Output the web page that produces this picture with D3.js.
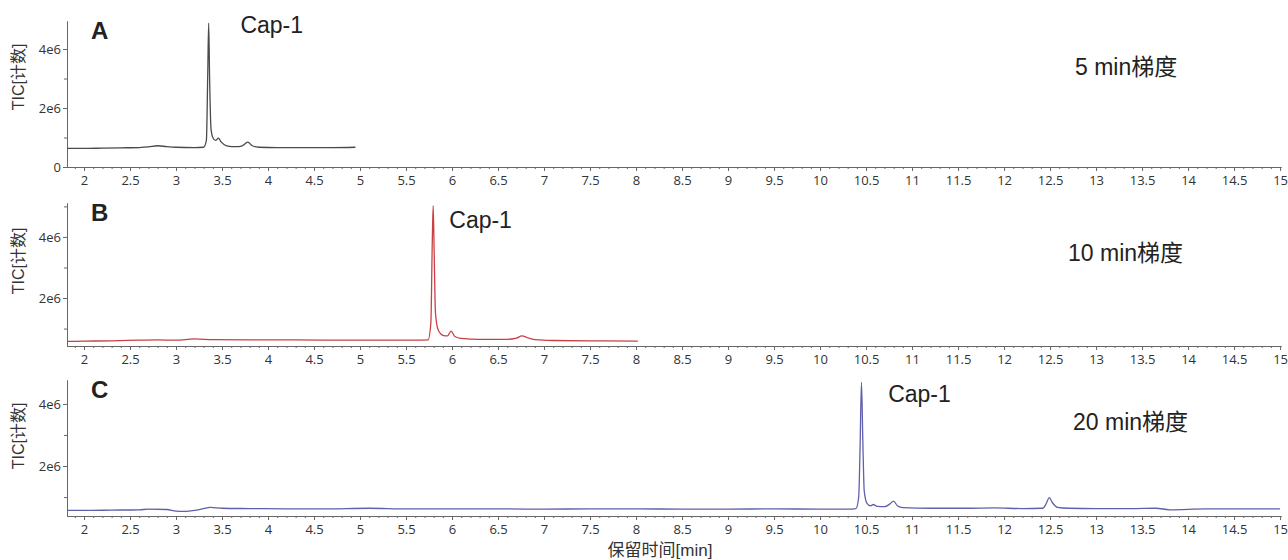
<!DOCTYPE html>
<html>
<head>
<meta charset="utf-8">
<script src="https://cdn.jsdelivr.net/npm/d3@7"></script>
<style>
  body { margin: 0; background: #fff; }
  .tick text { font-family: "Open Sans", "Noto Sans CJK SC", sans-serif; font-size: 13px; fill: #333; }
  .axis path, .axis line { stroke: #666; }
  .panel-label { font-family: "Liberation Sans", Arial, sans-serif; font-weight: bold; font-size: 24px; fill: #222; }
  .peak-label, .grad-label { font-family: "Liberation Sans", "Noto Sans CJK SC", sans-serif; font-size: 23px; fill: #222; }
  .y-title { font-family: "Liberation Sans", "Noto Sans CJK SC", sans-serif; font-size: 16px; fill: #333; }
  .x-title { font-family: "Liberation Sans", "Noto Sans CJK SC", sans-serif; font-size: 17px; fill: #333; }
</style>
</head>
<body>
<div class="chart"></div>
<script>
const width = 1288;
const height = 560;

// retention time (min) and TIC (x1e6 counts)
const timesA = [1.82, 2.0, 2.2, 2.4, 2.6, 2.7, 2.8, 2.9, 3.0, 3.2, 3.30, 3.33, 3.345, 3.355, 3.365, 3.38, 3.40, 3.43, 3.46, 3.49, 3.55, 3.65, 3.72, 3.78, 3.83, 3.9, 4.1, 4.4, 4.7, 4.95]
const valuesA = [0.63, 0.63, 0.64, 0.65, 0.66, 0.68, 0.72, 0.69, 0.67, 0.66, 0.67, 0.9, 3.2, 4.88, 3.0, 1.3, 1.0, 0.9, 0.98, 0.85, 0.72, 0.69, 0.72, 0.84, 0.72, 0.67, 0.66, 0.66, 0.66, 0.67]

const timesB = [1.82, 2.0, 2.3, 2.6, 2.8, 3.0, 3.2, 3.4, 3.8, 4.3, 4.8, 5.3, 5.6, 5.74, 5.77, 5.785, 5.795, 5.805, 5.82, 5.85, 5.9, 5.95, 5.99, 6.03, 6.1, 6.3, 6.6, 6.7, 6.76, 6.82, 6.9, 7.1, 7.5, 8.0, 8.02]
const valuesB = [0.58, 0.59, 0.6, 0.62, 0.63, 0.62, 0.66, 0.64, 0.63, 0.63, 0.62, 0.62, 0.62, 0.63, 1.2, 3.8, 5.02, 3.6, 1.5, 0.95, 0.78, 0.76, 0.92, 0.74, 0.68, 0.65, 0.65, 0.69, 0.76, 0.7, 0.64, 0.61, 0.6, 0.59, 0.59]

const timesC = [1.82, 2.0, 2.3, 2.6, 2.7, 2.9, 3.0, 3.1, 3.2, 3.3, 3.37, 3.5, 3.8, 4.2, 4.6, 5.1, 5.5, 6.0, 6.5, 7.0, 7.5, 8.0, 8.5, 9.0, 9.5, 10.0, 10.3, 10.39, 10.42, 10.435, 10.45, 10.465, 10.48, 10.51, 10.55, 10.58, 10.62, 10.7, 10.76, 10.8, 10.84, 10.9, 11.2, 11.6, 11.9, 12.2, 12.42, 12.46, 12.49, 12.53, 12.58, 12.7, 13.0, 13.4, 13.65, 13.8, 14.2, 14.6, 15.0]
const valuesC = [0.57, 0.57, 0.58, 0.59, 0.61, 0.6, 0.55, 0.54, 0.57, 0.63, 0.67, 0.64, 0.63, 0.62, 0.62, 0.64, 0.62, 0.62, 0.62, 0.61, 0.62, 0.62, 0.61, 0.61, 0.62, 0.61, 0.61, 0.63, 1.0, 2.6, 4.7, 2.8, 1.2, 0.8, 0.72, 0.76, 0.7, 0.69, 0.78, 0.87, 0.72, 0.66, 0.64, 0.64, 0.65, 0.63, 0.64, 0.8, 0.98, 0.8, 0.67, 0.64, 0.63, 0.63, 0.64, 0.59, 0.62, 0.62, 0.62]

const panelNames = ['A', 'B', 'C']
const gradients = ['5 min梯度', '10 min梯度', '20 min梯度']
const peakNames = ['Cap-1', 'Cap-1', 'Cap-1']
const lineColors = ['#4a4a4a', '#c94044', '#6060aa']
const yMin = [0, 0.43, 0.39]     // bottom of each y axis, x1e6
const yMax = [4.95, 5.11, 4.77]  // top of each y axis, x1e6

const xTickLabels = d3.range(2, 15.01, 0.5)
const yTickLabels = [0, 2, 4]
const yMinorTicks = [1, 3, 5]

// panel placement
const panelTop = [21, 203, 380]
const panelBottom = [167, 346, 516]
const gradX = [1075, 1068, 1073]
const gradY = [75, 261, 430]
const peakLabelX = [3.70, 5.97, 10.74] // in minutes
const peakLabelY = [33, 228, 402]
const yTitleY = [77, 261, 436]

const series = [
  timesA.map((t, i) => ({t, v: valuesA[i]})),
  timesB.map((t, i) => ({t, v: valuesB[i]})),
  timesC.map((t, i) => ({t, v: valuesC[i]}))
]

const svg = d3.select('.chart').append('svg')
  .attr('width', width)
  .attr('height', height)

const xScale = d3.scaleLinear()
  .domain([1.815, 15.01])
  .range([67, 1281])

const xMinor = d3.range(1.9, 15.01, 0.1).map(d => Math.round(d * 10) / 10)
  .filter(d => Math.round(d * 10) % 5 !== 0)

panelNames.forEach((name, p) => {
  const yScale = d3.scaleLinear()
    .domain([yMin[p], yMax[p]])
    .range([panelBottom[p], panelTop[p]])

  const g = svg.append('g')

  // x axis: minor ticks first, then labelled ticks
  g.append('g')
    .attr('class', 'axis')
    .attr('transform', `translate(0, ${panelBottom[p]})`)
    .call(d3.axisBottom(xScale).tickValues(xMinor).tickSize(2).tickFormat('').tickSizeOuter(0))
  g.append('g')
    .attr('class', 'axis')
    .attr('transform', `translate(0, ${panelBottom[p]})`)
    .call(d3.axisBottom(xScale).tickValues(xTickLabels).tickSize(4).tickPadding(5)
      .tickFormat(d3.format('')).tickSizeOuter(0))

  // y axis
  g.append('g')
    .attr('class', 'axis')
    .attr('transform', `translate(67, 0)`)
    .call(d3.axisLeft(yScale).tickValues(yMinorTicks.filter(d => d >= yMin[p] && d <= yMax[p]))
      .tickSize(3).tickFormat('').tickSizeOuter(0))
  g.append('g')
    .attr('class', 'axis')
    .attr('transform', `translate(67, 0)`)
    .call(d3.axisLeft(yScale).tickValues(yTickLabels.filter(d => d >= yMin[p] && d <= yMax[p]))
      .tickSize(4).tickPadding(2).tickSizeOuter(0)
      .tickFormat(d => d === 0 ? '0' : d + 'e6'))

  const line = d3.line()
    .x(d => xScale(d.t))
    .y(d => yScale(d.v))
    .curve(d3.curveMonotoneX)

  g.append('path')
    .datum(series[p])
    .attr('d', line)
    .attr('fill', 'none')
    .attr('stroke', lineColors[p])
    .attr('stroke-width', 1.3)

  g.append('text')
    .attr('class', 'panel-label')
    .attr('x', 91)
    .attr('y', panelTop[p] + 18)
    .text(name)

  g.append('text')
    .attr('class', 'peak-label')
    .attr('x', xScale(peakLabelX[p]))
    .attr('y', peakLabelY[p])
    .text(peakNames[p])

  g.append('text')
    .attr('class', 'grad-label')
    .attr('x', gradX[p])
    .attr('y', gradY[p])
    .text(gradients[p])

  g.append('text')
    .attr('class', 'y-title')
    .attr('text-anchor', 'middle')
    .attr('transform', `translate(24, ${yTitleY[p]}) rotate(-90)`)
    .text('TIC[计数]')
})

svg.append('text')
  .attr('class', 'x-title')
  .attr('text-anchor', 'middle')
  .attr('x', 660)
  .attr('y', 556)
  .text('保留时间[min]')
</script>
</body>
</html>
